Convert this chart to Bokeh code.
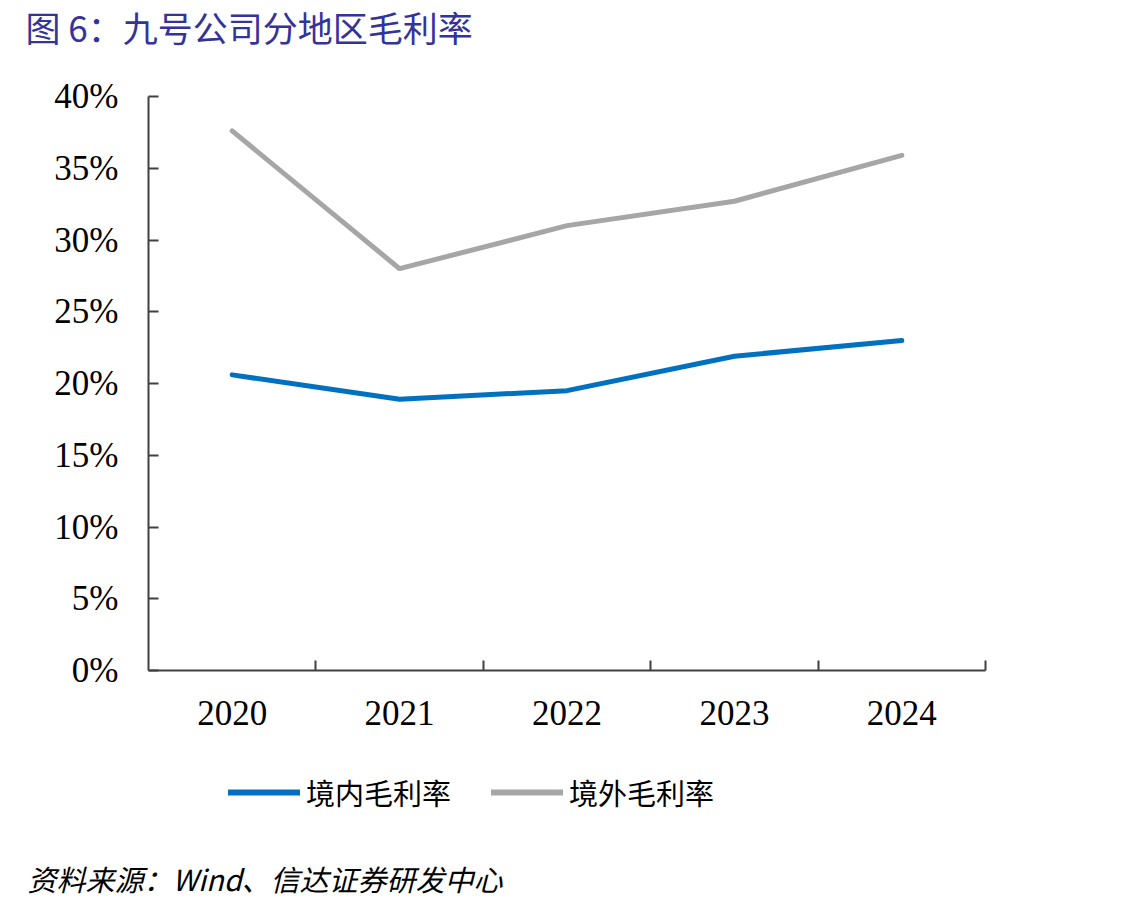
from bokeh.plotting import figure
from bokeh.layouts import column
from bokeh.models import (Range1d, FixedTicker, Title, Legend, LegendItem, ColumnDataSource)
from bokeh.embed import file_html
from bokeh.resources import INLINE

# ---- data ----
years = ["2020", "2021", "2022", "2023", "2024"]
domestic = [20.6, 18.9, 19.5, 21.9, 23.0]   # 境内毛利率 (%)
overseas = [37.6, 28.0, 31.0, 32.7, 35.9]   # 境外毛利率 (%)
y_ticks = [0, 5, 10, 15, 20, 25, 30, 35, 40]
y_tick_labels = ["0%", "5%", "10%", "15%", "20%", "25%", "30%", "35%", "40%"]
title_text = "图 6：九号公司分地区毛利率"
source_text = "资料来源：Wind、信达证券研发中心"
series_names = ["境内毛利率", "境外毛利率"]
series_colors = ["#0070c0", "#a6a6a6"]

x_pos = [i + 0.5 for i in range(len(years))]
boundaries = [i + 1 for i in range(len(years))]

SERIF = "Liberation Serif"
CJK = "Noto Sans CJK SC"
W = 1137
LEFT, RIGHT = 148, 152


def blank(h):
    f = figure(width=W, height=h, output_backend="svg", toolbar_location=None,
               x_range=Range1d(0, 1), y_range=Range1d(0, 1),
               x_axis_type=None, y_axis_type=None, min_border=0,
               min_border_left=LEFT, min_border_right=RIGHT)
    f.outline_line_color = None
    f.xgrid.visible = False
    f.ygrid.visible = False
    f.border_fill_color = "white"
    return f


# ---- title strip ----
head = blank(60)
head.title = Title(text=title_text, text_font=CJK, text_font_size="35px",
                   text_color="#333399", text_font_style="normal",
                   text_line_height=1.0,
                   align="left", vertical_align="top", offset=25 - LEFT, standoff=0)

# ---- main chart ----
p = figure(width=W, height=700, output_backend="svg", toolbar_location=None,
           x_range=Range1d(0, len(years)), y_range=Range1d(0, 40),
           min_border_left=LEFT, min_border_right=RIGHT, min_border_top=36,
           min_border_bottom=90)
p.outline_line_color = None
p.xgrid.visible = False
p.ygrid.visible = False
p.background_fill_color = "white"
p.border_fill_color = "white"

src = ColumnDataSource(dict(x=x_pos, dom=domestic, ovs=overseas))
p.line("x", "dom", source=src, line_color=series_colors[0], line_width=5, line_cap="round")
p.line("x", "ovs", source=src, line_color=series_colors[1], line_width=5, line_cap="round")

axis_color = "#404040"
xa = p.xaxis[0]
xa.ticker = FixedTicker(ticks=x_pos, minor_ticks=boundaries)
xa.major_label_overrides = {float(x): y for x, y in zip(x_pos, years)}
xa.major_tick_line_color = None
xa.minor_tick_in = 10
xa.minor_tick_out = 0
xa.minor_tick_line_color = axis_color
xa.minor_tick_line_width = 2
xa.axis_line_color = axis_color
xa.axis_line_width = 2
xa.major_label_text_font = SERIF
xa.major_label_text_font_size = "35px"
xa.major_label_text_color = "black"
xa.major_label_standoff = 24

ya = p.yaxis[0]
ya.ticker = FixedTicker(ticks=y_ticks)
ya.major_label_overrides = {int(v): t for v, t in zip(y_ticks, y_tick_labels)}
ya.major_tick_in = 10
ya.major_tick_out = 0
ya.major_tick_line_color = axis_color
ya.major_tick_line_width = 2
ya.minor_tick_line_color = None
ya.axis_line_color = axis_color
ya.axis_line_width = 2
ya.major_label_text_font = SERIF
ya.major_label_text_font_size = "35px"
ya.major_label_text_color = "black"
ya.major_label_standoff = 30

# ---- legend + source strip ----
foot = blank(138)
nan = float("nan")
keys = ColumnDataSource(dict(x=[nan], y=[nan]))   # legend keys only, draws nothing
lr1 = foot.line("x", "y", source=keys, line_color=series_colors[0], line_width=6, line_cap="round")
lr2 = foot.line("x", "y", source=keys, line_color=series_colors[1], line_width=6, line_cap="round")
legend = Legend(items=[LegendItem(label=series_names[0], renderers=[lr1]),
                       LegendItem(label=series_names[1], renderers=[lr2])],
                orientation="horizontal", location=(228 - LEFT, 41),
                label_text_font=CJK, label_text_font_size="29px",
                label_text_color="black", glyph_width=72, glyph_height=36,
                label_standoff=6, spacing=40, padding=0, margin=0,
                border_line_color=None, background_fill_alpha=0)
foot.add_layout(legend, "center")
foot.add_layout(Title(text=source_text, text_font=CJK, text_font_size="29px",
                      text_color="black", text_font_style="italic",
                      align="left", offset=27 - LEFT, standoff=0), "below")

layout = column(head, p, foot, spacing=0)
open("out.html", "w").write(file_html(layout, INLINE))
